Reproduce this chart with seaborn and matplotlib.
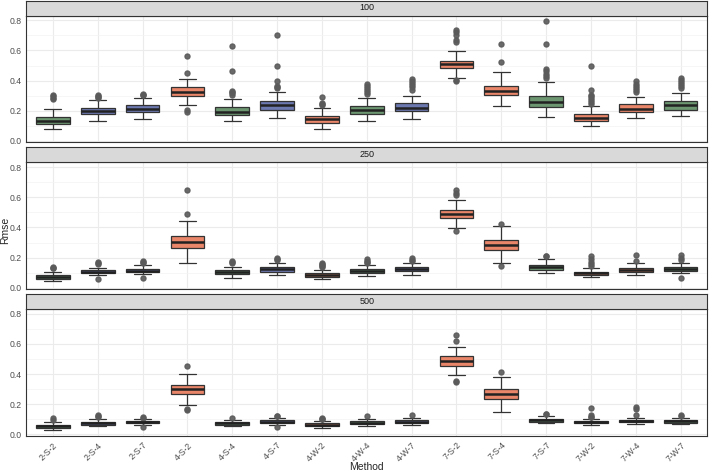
import matplotlib
matplotlib.use('Agg')
import matplotlib.pyplot as plt
from matplotlib.ticker import MultipleLocator
import pandas as pd
import seaborn as sns

# categories and fill groups
methods = ['2-S-2', '2-S-4', '2-S-7', '4-S-2', '4-S-4', '4-S-7', '4-W-2', '4-W-4',
           '4-W-7', '7-S-2', '7-S-4', '7-S-7', '7-W-2', '7-W-4', '7-W-7']
fill_key = ['G', 'B', 'B', 'R', 'G', 'B', 'R', 'G', 'B', 'R', 'R', 'G', 'R', 'R', 'G']
sizes = ['100', '250', '500']

# box summaries: whisker low, q1, median, q3, whisker high, outliers
lo_100 = [0.079, 0.134, 0.143, 0.240, 0.130, 0.154, 0.077, 0.132, 0.147, 0.420, 0.229, 0.156, 0.101, 0.152, 0.163]
q1_100 = [0.112, 0.178, 0.193, 0.299, 0.174, 0.204, 0.121, 0.180, 0.198, 0.481, 0.303, 0.226, 0.134, 0.191, 0.207]
md_100 = [0.134, 0.198, 0.215, 0.327, 0.191, 0.237, 0.143, 0.204, 0.222, 0.508, 0.334, 0.257, 0.154, 0.215, 0.237]
q3_100 = [0.158, 0.220, 0.236, 0.356, 0.226, 0.262, 0.165, 0.231, 0.251, 0.532, 0.365, 0.299, 0.178, 0.242, 0.264]
hi_100 = [0.211, 0.273, 0.288, 0.413, 0.279, 0.327, 0.218, 0.285, 0.295, 0.596, 0.455, 0.393, 0.229, 0.290, 0.321]
out_100 = [[0.279, 0.288, 0.297, 0.305],
           [0.286, 0.292, 0.297, 0.302],
           [0.302, 0.307, 0.312],
           [0.448, 0.563, 0.205, 0.189],
           [0.308, 0.315, 0.322, 0.330, 0.466, 0.629],
           [0.352, 0.358, 0.365, 0.400, 0.495, 0.701],
           [0.238, 0.245, 0.252, 0.292],
           [0.312, 0.325, 0.338, 0.352, 0.366, 0.376],
           [0.340, 0.355, 0.370, 0.385, 0.400, 0.412],
           [0.657, 0.668, 0.700, 0.720, 0.735, 0.398, 0.402],
           [0.527, 0.646],
           [0.420, 0.430, 0.445, 0.462, 0.477, 0.640, 0.796],
           [0.247, 0.257, 0.270, 0.283, 0.295, 0.305, 0.338, 0.499],
           [0.322, 0.335, 0.350, 0.365, 0.380, 0.395],
           [0.352, 0.365, 0.378, 0.392, 0.405, 0.420]]

lo_250 = [0.046, 0.086, 0.090, 0.167, 0.068, 0.086, 0.055, 0.075, 0.086, 0.398, 0.163, 0.097, 0.073, 0.084, 0.095]
q1_250 = [0.059, 0.097, 0.103, 0.266, 0.090, 0.108, 0.073, 0.101, 0.110, 0.464, 0.248, 0.119, 0.086, 0.105, 0.110]
md_250 = [0.073, 0.108, 0.114, 0.303, 0.103, 0.123, 0.084, 0.114, 0.123, 0.492, 0.281, 0.136, 0.097, 0.119, 0.125]
q3_250 = [0.086, 0.119, 0.127, 0.345, 0.119, 0.138, 0.097, 0.125, 0.136, 0.519, 0.316, 0.154, 0.108, 0.134, 0.138]
hi_250 = [0.108, 0.134, 0.152, 0.442, 0.141, 0.163, 0.119, 0.152, 0.167, 0.580, 0.411, 0.191, 0.134, 0.165, 0.163]
out_250 = [[0.128, 0.133, 0.138],
           [0.155, 0.163, 0.172, 0.060],
           [0.165, 0.172, 0.180, 0.064],
           [0.488, 0.646],
           [0.165, 0.172, 0.178],
           [0.185, 0.190, 0.197],
           [0.135, 0.142, 0.150, 0.157, 0.163],
           [0.165, 0.172, 0.180, 0.190],
           [0.178, 0.186, 0.196],
           [0.613, 0.628, 0.646, 0.375],
           [0.426, 0.143],
           [0.208, 0.213],
           [0.145, 0.155, 0.174, 0.189, 0.213],
           [0.180, 0.218],
           [0.185, 0.195, 0.220, 0.066]]

lo_500 = [0.029, 0.053, 0.060, 0.196, 0.055, 0.066, 0.046, 0.055, 0.060, 0.393, 0.152, 0.075, 0.064, 0.068, 0.068]
q1_500 = [0.042, 0.064, 0.074, 0.268, 0.066, 0.078, 0.057, 0.068, 0.074, 0.455, 0.235, 0.085, 0.074, 0.080, 0.078]
md_500 = [0.053, 0.075, 0.081, 0.301, 0.075, 0.086, 0.066, 0.079, 0.084, 0.488, 0.270, 0.095, 0.081, 0.090, 0.088]
q3_500 = [0.062, 0.084, 0.088, 0.330, 0.082, 0.094, 0.073, 0.088, 0.094, 0.519, 0.303, 0.104, 0.089, 0.098, 0.096]
hi_500 = [0.080, 0.100, 0.100, 0.402, 0.095, 0.110, 0.088, 0.100, 0.108, 0.580, 0.378, 0.121, 0.100, 0.112, 0.110]
out_500 = [[0.095, 0.112],
           [0.117, 0.122, 0.130],
           [0.110, 0.114, 0.052],
           [0.453, 0.163, 0.172],
           [0.108],
           [0.120, 0.124, 0.052],
           [0.100, 0.106, 0.112],
           [0.121],
           [0.126],
           [0.622, 0.659, 0.350, 0.356],
           [0.413],
           [0.134, 0.137],
           [0.113, 0.118, 0.130, 0.174],
           [0.127, 0.169, 0.185],
           [0.124, 0.126]]

palette = {'R': '#E98569', 'B': '#6C78B0', 'G': '#6C9670'}
REP = 60  # copies of each summary value so the box stats land on them


def expand(n, lo, q1, md, q3, hi, out):
    rows = []
    for i, m in enumerate(methods):
        vals = [lo[i]] * REP + [q1[i]] * REP + [md[i]] * REP + [q3[i]] * REP + [hi[i]] * REP + out[i]
        for v in vals:
            rows.append((n, m, fill_key[i], v))
    return rows


rows = (expand('100', lo_100, q1_100, md_100, q3_100, hi_100, out_100)
        + expand('250', lo_250, q1_250, md_250, q3_250, hi_250, out_250)
        + expand('500', lo_500, q1_500, md_500, q3_500, hi_500, out_500))
df = pd.DataFrame(rows, columns=['n', 'Method', 'grp', 'Rmse'])

sns.set_style('white')
plt.rcParams['font.family'] = ['Liberation Sans', 'DejaVu Sans']

W, H = 709, 472
fig = plt.figure(figsize=(W / 100, H / 100), dpi=100)
left = 26 / W
width = (707.5 - 26) / W
tops = [15.5, 162.3, 309.0]
ph, sh = 126.7, 15.0

for k, n in enumerate(sizes):
    top = tops[k]
    ax = fig.add_axes([left, 1 - (top + ph) / H, width, ph / H])
    sns.boxplot(data=df[df['n'] == n], x='Method', y='Rmse', hue='grp', order=methods,
                hue_order=['R', 'B', 'G'], palette=palette, dodge=False, width=0.75,
                saturation=1, linecolor='#333333', linewidth=0.9, fliersize=3.6,
                flierprops=dict(marker='o', markerfacecolor='#5a5a5a',
                                markeredgecolor='#5a5a5a', alpha=0.9),
                medianprops=dict(linewidth=1.8, color='#222222'),
                legend=False, ax=ax)
    ax.set_xlim(-0.6, 14.6)
    ax.set_ylim(-0.008, 0.832)
    ax.yaxis.set_major_locator(MultipleLocator(0.2))
    ax.yaxis.set_minor_locator(MultipleLocator(0.1))
    ax.set_axisbelow(True)
    ax.grid(which='major', color='#EBEBEB', linewidth=0.8)
    ax.grid(which='minor', axis='y', color='#F3F3F3', linewidth=0.5)
    ax.set_xlabel('')
    ax.set_ylabel('')
    for s in ax.spines.values():
        s.set_color('#333333')
        s.set_linewidth(0.8)
    ax.tick_params(axis='y', which='major', length=2, width=0.6, color='#333333',
                   labelsize=6.2, labelcolor='#4D4D4D', pad=1)
    ax.tick_params(axis='y', which='minor', length=0)
    ax.set_yticks([0, 0.2, 0.4, 0.6, 0.8], ['0.0', '0.2', '0.4', '0.6', '0.8'])
    if k < 2:
        ax.tick_params(axis='x', length=0, labelbottom=False)
    else:
        ax.tick_params(axis='x', length=2, width=0.6, color='#333333',
                       labelsize=6.2, labelcolor='#4D4D4D', pad=1.5)
        plt.setp(ax.get_xticklabels(), rotation=45, ha='right', rotation_mode='anchor')

    # facet strip
    sax = fig.add_axes([left, 1 - top / H, width, sh / H])
    sax.set_facecolor('#D9D9D9')
    sax.set_xticks([])
    sax.set_yticks([])
    for s in sax.spines.values():
        s.set_color('#333333')
        s.set_linewidth(0.8)
    sax.text(0.5, 0.5, n, ha='center', va='center', fontsize=6.5, color='#1A1A1A',
             transform=sax.transAxes)

fig.text(366 / W, 1 - 467 / H, 'Method', ha='center', va='center', fontsize=7.5)
fig.text(5 / W, 1 - 230 / H, 'Rmse', ha='center', va='center', rotation=90, fontsize=7.5)

fig.savefig('out.png', dpi=100)
